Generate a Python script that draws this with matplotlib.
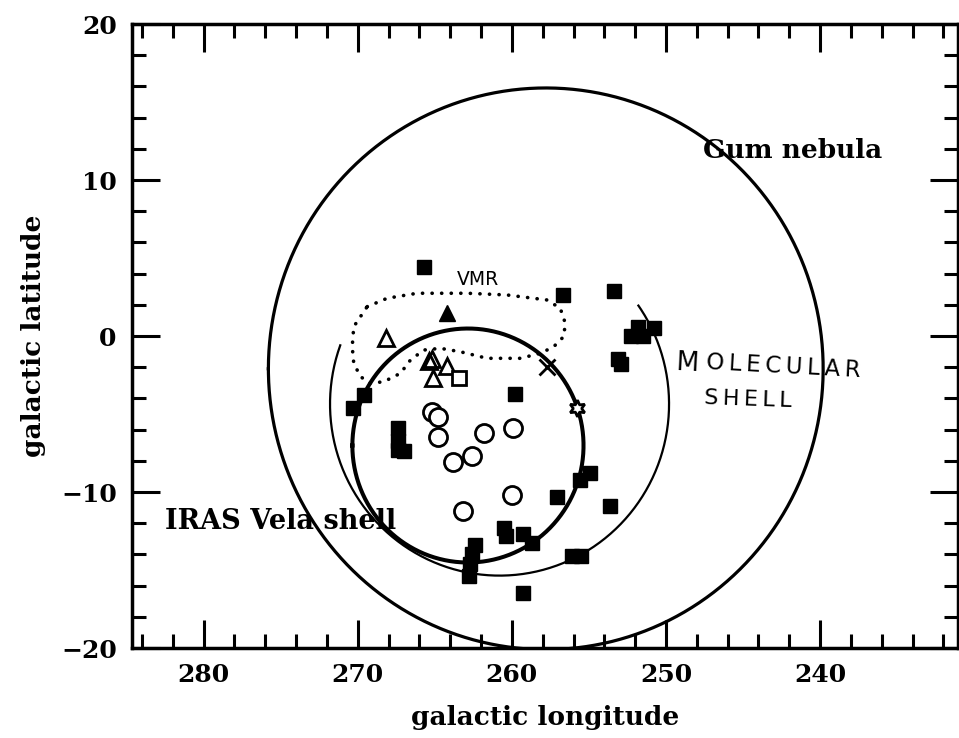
import matplotlib
matplotlib.use('Agg')
import matplotlib.pyplot as plt
import numpy as np

# filled squares (lon, lat)
sq_lon = [265.7, 256.7, 253.4, 252.3, 251.8, 251.5, 250.8, 253.1, 252.9, 259.8,
          269.6, 270.3, 267.4, 267.4, 267.4, 267.0, 255.6, 254.9, 257.1, 253.6,
          260.5, 260.4, 259.3, 258.7, 262.4, 262.6, 262.7, 262.8, 256.1, 255.5, 259.3]
sq_lat = [4.4, 2.6, 2.9, 0.0, 0.6, 0.0, 0.5, -1.5, -1.8, -3.7,
          -3.8, -4.6, -5.9, -6.7, -7.3, -7.4, -9.2, -8.8, -10.3, -10.9,
          -12.3, -12.8, -12.7, -13.3, -13.4, -14.0, -14.6, -15.4, -14.1, -14.1, -16.5]

# open circles
circ_lon = [265.2, 264.8, 264.8, 261.8, 259.9, 263.8, 262.6, 260.0, 263.2]
circ_lat = [-4.9, -5.2, -6.5, -6.2, -5.9, -8.1, -7.7, -10.2, -11.2]

# open triangles
tri_lon = [268.2, 264.2, 265.1, 265.2, 265.4]
tri_lat = [-0.1, -1.9, -2.7, -1.5, -1.6]

# filled triangle, open square, cross, star
ftri_lon, ftri_lat = [264.2], [1.5]
osq_lon, osq_lat = [263.4], [-2.7]
cross_lon, cross_lat = [257.7], [-2.0]
star_lon, star_lat = [255.8], [-4.6]

# VMR contour
vmr_lon = [269.39, 268.09, 266.15, 262.90, 260.31, 257.72, 256.86, 256.53, 256.64,
           257.29, 258.15, 259.45, 261.61, 263.34, 264.64, 265.72, 266.58, 267.23,
           268.31, 269.17, 269.82, 270.26, 270.36, 270.26, 269.39]
vmr_lat = [1.88, 2.42, 2.74, 2.74, 2.63, 2.31, 1.78, 0.81, -0.04,
           -0.69, -1.11, -1.43, -1.43, -1.01, -0.79, -0.90, -1.54, -2.39,
           -2.93, -3.03, -2.61, -1.75, -0.69, 0.60, 1.88]

# shells: centre lon, centre lat, radius (deg)
gum = (257.8, -2.1, 18.0)
vela = (262.85, -7.02, 7.5)
molec = (260.8, -4.36, 11.0)
molec_arc = (160, 395)   # arc extent, degrees

fig = plt.figure(figsize=(9.59, 7.38), dpi=100)
ax = fig.add_axes([132 / 959, 90 / 738, 826 / 959, 624 / 738])

t = np.linspace(0, 2 * np.pi, 400)
for (cl, cb, r), lw in [(gum, 2.3), (vela, 2.9)]:
    ax.plot(cl + r * np.cos(t), cb + r * np.sin(t), color='black', lw=lw)

ta = np.radians(np.linspace(molec_arc[0], molec_arc[1], 300))
ax.plot(molec[0] - molec[2] * np.cos(ta), molec[1] + molec[2] * np.sin(ta),
        color='black', lw=1.6)

ax.plot(vmr_lon, vmr_lat, color='black', lw=2.6,
        linestyle=(0, (0.05, 2.6)), dash_capstyle='round')

ax.plot(sq_lon, sq_lat, 's', color='black', ms=10, ls='none')
ax.plot(circ_lon, circ_lat, 'o', mfc='white', mec='black', mew=2.0, ms=13, ls='none')
ax.plot(tri_lon, tri_lat, '^', mfc='none', mec='black', mew=2.0, ms=11, ls='none')
ax.plot(ftri_lon, ftri_lat, '^', color='black', ms=12, ls='none')
ax.plot(osq_lon, osq_lat, 's', mfc='white', mec='black', mew=2.0, ms=10, ls='none')
ax.plot(cross_lon, cross_lat, 'x', color='black', mew=2.0, ms=11, ls='none')
ax.plot(star_lon, star_lat, marker=(6, 1, 0), mfc='white', mec='black', mew=2.0,
        ms=12, ls='none')

serif = {'family': 'DejaVu Serif', 'weight': 'bold'}
ax.text(241.75, 11.9, 'Gum nebula', fontsize=19, ha='center', va='center', **serif)
ax.text(275.0, -11.86, 'IRAS Vela shell', fontsize=19.5, ha='center', va='center', **serif)
ax.text(262.2, 3.6, 'VMR', fontsize=13.5, ha='center', va='center', family='DejaVu Sans')

# hand-lettered label, letters spread with thin spaces
ts = '\u2009'
ax.text(248.6, -1.75, 'M', fontsize=19, ha='center', va='center', family='DejaVu Sans',
        rotation=-3)
ax.text(242.4, -1.95, ts.join('OLECULAR'), fontsize=16.5, ha='center', va='center',
        family='DejaVu Sans', rotation=-3)
ax.text(244.7, -4.1, ts.join('SHELL'), fontsize=16, ha='center', va='center',
        family='DejaVu Sans', rotation=-2)

ax.set_xlim(284.65, 231.05)
ax.set_ylim(-20, 20)
ax.set_xticks([280, 270, 260, 250, 240])
ax.set_xticks(np.arange(232, 285, 2), minor=True)
ax.set_yticks([-20, -10, 0, 10, 20])
ax.set_yticks(np.arange(-18, 20, 2), minor=True)
ax.set_yticklabels(['\u221220', '\u221210', '0', '10', '20'])
ax.tick_params(which='both', direction='in', top=True, right=True, width=2.2)
ax.tick_params(which='major', length=20, pad=11)
ax.tick_params(which='minor', length=10)
for lab in ax.get_xticklabels() + ax.get_yticklabels():
    lab.set_fontfamily('DejaVu Serif')
    lab.set_fontweight('bold')
    lab.set_fontsize(18)
for s in ax.spines.values():
    s.set_linewidth(2.5)

ax.set_xlabel('galactic longitude', fontsize=19, **serif)
ax.set_ylabel('galactic latitude', fontsize=19, **serif)
ax.xaxis.set_label_coords(0.5, -0.092)
ax.yaxis.set_label_coords(-0.104, 0.5)

fig.savefig('out.png', dpi=100)
